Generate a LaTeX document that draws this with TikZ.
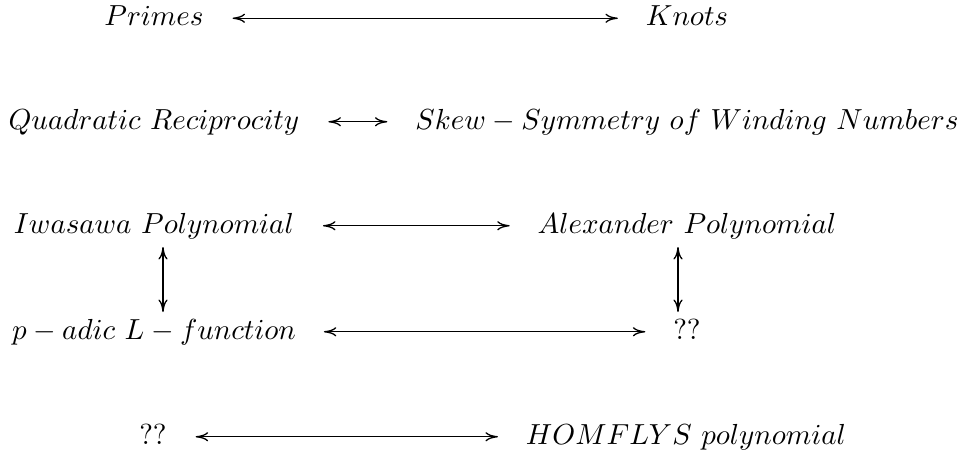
\documentclass[tikz,border=0pt]{standalone}
\usetikzlibrary{calc,arrows.meta}
\begin{document}
\begin{tikzpicture}[x=0.3448pt,y=-0.3448pt,
  lbl/.style={anchor=base,inner sep=0pt,outer sep=0pt},
  tipA/.tip={Computer Modern Rightarrow[length=4.3pt,width=3.2pt,line width=0.45pt]},
  link/.style={tipA-tipA,line width=0.45pt}]
\useasboundingbox (0,0) rectangle (964,452);
% column 1 centre 154, column 2 centre 687
\node[lbl] (pr) at (154,25.5) {$Primes$};
\node[lbl] (kn) at (687,25.5) {$Knots$};
\node[lbl] (qr) at (154,129) {$Quadratic\ Reciprocity$};
\node[lbl] (sk) at (687,129) {$Skew-Symmetry\ of\ Winding\ Numbers$};
\node[lbl] (iw) at (154,233) {$Iwasawa\ Polynomial$};
\node[lbl] (al) at (687,233) {$Alexander\ Polynomial$};
\node[lbl] (pa) at (154,339) {$p-adic\ L-function$};
\node[lbl] (q1) at (687,339) {$??$};
\node[lbl] (q2) at (153,444) {$??$};
\node[lbl] (hf) at (686,444) {$HOMFLYS\ polynomial$};
% horizontal connectors on the math axis
\draw[link] ($(pr.base east)+(29,-7.25)$) -- ($(kn.base west)+(-28,-7.25)$);
\draw[link] ($(qr.base east)+(29,-7.25)$) -- ($(sk.base west)+(-28,-7.25)$);
\draw[link] ($(iw.base east)+(29,-7.25)$) -- ($(al.base west)+(-28,-7.25)$);
\draw[link] ($(pa.base east)+(28,-7.25)$) -- ($(q1.base west)+(-28,-7.25)$);
\draw[link] ($(q2.base east)+(29,-7.25)$) -- ($(hf.base west)+(-28,-7.25)$);
% vertical connectors
\draw[link] ($(iw.base)+(9,14)$) -- ($(pa.base)+(9,-27)$);
\draw[link] ($(al.base)+(-9,14)$) -- ($(q1.base)+(-9,-27)$);
\end{tikzpicture}
\end{document}
